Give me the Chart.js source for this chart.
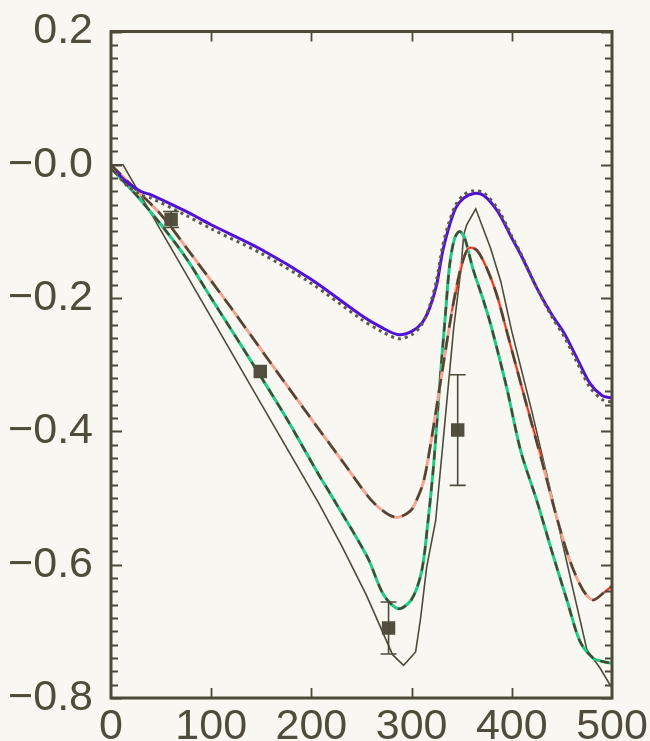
<!DOCTYPE html>
<html>
<head>
<meta charset="utf-8">
<script src="https://cdn.jsdelivr.net/npm/chart.js@4.4.1/dist/chart.umd.min.js"></script>
<style>
  html, body { margin: 0; padding: 0; background: #f8f7f1; }
  #wrap { width: 650px; height: 741px; }
</style>
</head>
<body>
<div id="wrap"><canvas id="chart" width="650" height="741"></canvas></div>
<script>
const xTickValues = [0, 100, 200, 300, 400, 500];
const xTickLabels = ["0", "100", "200", "300", "400", "500"];
const yTickValues = [0.2, 0.0, -0.2, -0.4, -0.6, -0.8];
const yTickLabels = ["0.2", "\u22120.0", "\u22120.2", "\u22120.4", "\u22120.6", "\u22120.8"];

// blue solid + grey dotted
const blueX = [5, 15, 30, 40, 75, 100, 150, 200, 250, 270, 287, 300, 310, 318, 325, 331, 337, 344, 352, 362, 372, 386, 400, 409, 425, 440, 452, 465, 478, 490, 500];
const blueY = [-0.01, -0.025, -0.04, -0.045, -0.07, -0.09, -0.127, -0.172, -0.226, -0.244, -0.255, -0.25, -0.238, -0.215, -0.18, -0.13, -0.095, -0.065, -0.05, -0.043, -0.046, -0.07, -0.11, -0.135, -0.185, -0.225, -0.252, -0.29, -0.328, -0.346, -0.35];
const dottedY = [-0.012, -0.03, -0.045, -0.05, -0.076, -0.096, -0.133, -0.178, -0.232, -0.25, -0.261, -0.255, -0.24, -0.212, -0.172, -0.122, -0.088, -0.06, -0.045, -0.039, -0.042, -0.066, -0.107, -0.133, -0.185, -0.228, -0.257, -0.296, -0.334, -0.352, -0.356];

// green solid + dark dashed
const greenX = [0, 25, 50, 75, 100, 140, 175, 205, 223, 256, 272, 287, 300, 310, 316, 322, 328, 334, 338, 343, 348, 353, 361, 372, 379, 395, 409, 425, 440, 455, 468, 481, 490, 500];
const greenY = [-0.005, -0.045, -0.09, -0.14, -0.2, -0.295, -0.38, -0.459, -0.504, -0.589, -0.645, -0.666, -0.652, -0.61, -0.54, -0.45, -0.33, -0.22, -0.15, -0.11, -0.1, -0.11, -0.155, -0.205, -0.24, -0.335, -0.43, -0.504, -0.58, -0.653, -0.715, -0.74, -0.745, -0.748];

// salmon solid + red + long dashed
const pinkX = [0, 20, 50, 78, 120, 175, 233, 259, 275, 286, 299, 305, 312, 320, 330, 342, 350, 357, 365, 375, 385, 395, 412, 431, 445, 458, 471, 481, 491, 500];
const pinkY = [0, -0.03, -0.075, -0.13, -0.215, -0.33, -0.449, -0.502, -0.523, -0.529, -0.519, -0.503, -0.475, -0.41, -0.315, -0.205, -0.15, -0.125, -0.128, -0.155, -0.195, -0.25, -0.345, -0.45, -0.53, -0.594, -0.638, -0.653, -0.643, -0.632];
const redX = [340, 346, 352, 357, 365, 375, 385, 395, 412, 430, 460, 492, 500];
const redY = [-0.22, -0.18, -0.14, -0.125, -0.128, -0.155, -0.195, -0.25, -0.345, -0.44, null, -0.642, -0.632];

// thin dark solid
const blackX = [0, 12, 50, 100, 150, 207, 230, 255, 281, 292, 304, 309, 315, 324, 333, 342, 349, 352, 355, 364, 379, 389, 400, 420, 441, 460, 475, 488, 500];
const blackY = [0, 0, -0.099, -0.229, -0.359, -0.507, -0.571, -0.646, -0.735, -0.751, -0.731, -0.68, -0.604, -0.534, -0.39, -0.245, -0.16, -0.105, -0.09, -0.066, -0.126, -0.175, -0.25, -0.37, -0.504, -0.63, -0.728, -0.755, -0.785];

// measured points with error bars
const obsX = [60, 149, 277, 346];
const obsY = [-0.082, -0.31, -0.695, -0.398];
const obsErr = [0.012, 0.006, 0.039, 0.083];

const ink = "#4d4a3a";

function pairs(xs, ys) {
  return xs.map((x, i) => ({ x: x, y: ys[i] }));
}

function lineSet(data, color, width, dash, tension) {
  return {
    type: "line",
    data: data,
    borderColor: color,
    borderWidth: width,
    borderDash: dash,
    pointRadius: 0,
    fill: false,
    tension: tension,
    spanGaps: false,
  };
}

const framePlugin = {
  id: "frame",
  afterDatasetsDraw(chart) {
    const { ctx, chartArea: a, scales } = chart;
    const xs = scales.x;
    const ys = scales.y;
    ctx.save();
    ctx.strokeStyle = ink;
    ctx.lineWidth = 1.8;
    ctx.beginPath();
    for (let k = 0; k <= 50; k++) {
      const v = -0.8 + k * 0.02;
      const py = Math.round(ys.getPixelForValue(v)) + 0.5;
      const len = k % 10 === 0 ? 11 : 7;
      ctx.moveTo(a.left, py);
      ctx.lineTo(a.left + len, py);
      ctx.moveTo(a.right, py);
      ctx.lineTo(a.right - len, py);
    }
    for (const v of xTickValues.slice(1, -1)) {
      const px = Math.round(xs.getPixelForValue(v)) + 0.5;
      ctx.moveTo(px, a.bottom);
      ctx.lineTo(px, a.bottom - 10);
      ctx.moveTo(px, a.top);
      ctx.lineTo(px, a.top + 10);
    }
    ctx.stroke();
    ctx.lineWidth = 3;
    ctx.strokeRect(a.left, a.top, a.right - a.left, a.bottom - a.top);

    // error bars
    ctx.lineWidth = 1.6;
    ctx.beginPath();
    obsX.forEach((x, i) => {
      if (obsErr[i] < 0.01) return;
      const px = xs.getPixelForValue(x);
      const top = ys.getPixelForValue(obsY[i] + obsErr[i]);
      const bot = ys.getPixelForValue(obsY[i] - obsErr[i]);
      ctx.moveTo(px, top);
      ctx.lineTo(px, bot);
      ctx.moveTo(px - 8, top);
      ctx.lineTo(px + 8, top);
      ctx.moveTo(px - 8, bot);
      ctx.lineTo(px + 8, bot);
    });
    ctx.stroke();
    ctx.restore();
  },
};

const labelFont = { family: "'Liberation Sans', Arial, sans-serif", size: 43, lineHeight: 1 };

// first dataset is drawn on top
new Chart(document.getElementById("chart"), {
  type: "line",
  data: {
    datasets: [
      {
        type: "scatter",
        data: pairs(obsX, obsY),
        pointStyle: "rect",
        pointRadius: 9.5,
        backgroundColor: "#524f3e",
        borderColor: "#524f3e",
        borderWidth: 0,
      },
      lineSet(pairs(blueX, dottedY), "#5d5a4c", 3, [3, 4], 0.3),
      lineSet(pairs(blueX, blueY), "#5212d6", 3, [], 0.3),
      lineSet(pairs(pinkX, pinkY), "#4f4535", 2.6, [14, 8], 0.3),
      lineSet(pairs(redX, redY), "#e0301c", 1.6, [], 0.3),
      lineSet(pairs(pinkX, pinkY), "#f2a592", 3, [], 0.3),
      lineSet(pairs(greenX, greenY), "#4a4636", 2.4, [9, 7], 0.3),
      lineSet(pairs(greenX, greenY), "#1fcb86", 3, [], 0.3),
      lineSet(pairs(blackX, blackY), ink, 1.6, [], 0),
    ],
  },
  options: {
    responsive: false,
    animation: false,
    events: [],
    layout: { padding: { top: 29, right: 38, bottom: 0, left: 0 } },
    plugins: { legend: { display: false }, tooltip: { enabled: false } },
    scales: {
      x: {
        type: "linear",
        min: 0,
        max: 500,
        grid: { display: false },
        border: { display: false },
        afterBuildTicks(scale) {
          scale.ticks = xTickValues.map((v) => ({ value: v }));
        },
        afterFit(scale) {
          scale.height = 43;
        },
        ticks: {
          color: "#4f4c3b",
          font: labelFont,
          padding: 0,
          maxRotation: 0,
          autoSkip: false,
          callback(value) {
            const i = xTickValues.indexOf(value);
            return i >= 0 ? xTickLabels[i] : "";
          },
        },
      },
      y: {
        type: "linear",
        min: -0.8,
        max: 0.2,
        grid: { display: false },
        border: { display: false },
        afterBuildTicks(scale) {
          scale.ticks = yTickValues.map((v) => ({ value: v }));
        },
        afterFit(scale) {
          scale.width = 111;
        },
        ticks: {
          color: "#4f4c3b",
          font: labelFont,
          padding: 10,
          autoSkip: false,
          callback(value) {
            const i = yTickValues.findIndex((v) => Math.abs(v - value) < 1e-6);
            return i >= 0 ? yTickLabels[i] : "";
          },
        },
      },
    },
  },
  plugins: [framePlugin],
});
</script>
</body>
</html>
